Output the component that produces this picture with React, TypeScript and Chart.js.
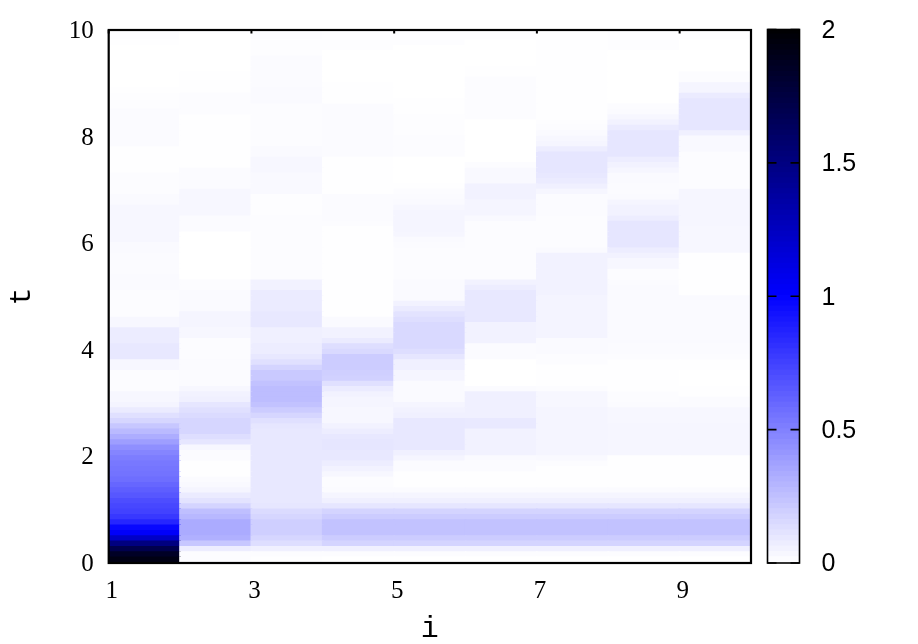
import { useEffect, useRef } from "react";
import { Chart, registerables } from "chart.js";

Chart.register(...registerables);

// value per 0.1-wide t row, from t=0 upward, one list per i column
const col1 = [
  1.92, 1.85, 1.7, 1.5, 1.22, 1.02, 0.97, 0.85, 0.78, 0.74,
  0.72, 0.7, 0.66, 0.63, 0.6, 0.57, 0.55, 0.54, 0.53, 0.51,
  0.48, 0.44, 0.38, 0.32, 0.27, 0.22, 0.16, 0.12, 0.08, 0.045,
  0.03, 0.03, 0.01, 0.01, 0.01, 0.01, 0.03, 0.03, 0.09, 0.09,
  0.09, 0.075, 0.075, 0.075, 0.03, 0.03, 0.01, 0.01, 0.01, 0.01,
  0.012, 0.02, 0.02, 0.02, 0.015, 0.015, 0.015, 0.015, 0.02, 0.02,
  0.03, 0.03, 0.03, 0.03, 0.03, 0.03, 0.03, 0.02, 0.02, 0.012,
  0.01, 0.01, 0.01, 0.002, 0.002, 0.002, 0.005, 0.005, 0.015, 0.015,
  0.015, 0.015, 0.015, 0.015, 0.015, 0.008, 0.008, 0.008, 0.002, 0,
  0, 0, 0, 0, 0, 0, 0, 0.003, 0.01, 0.01,
];
const col2 = [
  0.01, 0.01, 0.07, 0.22, 0.31, 0.33, 0.33, 0.33, 0.28, 0.25,
  0.17, 0.11, 0.08, 0.04, 0.025, 0.015, 0.005, 0.005, 0.005, 0.015,
  0.015, 0.03, 0.1, 0.13, 0.16, 0.16, 0.16, 0.14, 0.12, 0.1,
  0.06, 0.05, 0.03, 0.015, 0.015, 0.015, 0.015, 0.015, 0.012, 0.012,
  0.012, 0.012, 0.03, 0.03, 0.04, 0.04, 0.04, 0.02, 0.02, 0.02,
  0.02, 0.01, 0.01, 0, 0, 0, 0, 0, 0, 0,
  0, 0, 0.015, 0.015, 0.015, 0.03, 0.03, 0.03, 0.03, 0.03,
  0.015, 0.015, 0.015, 0.015, 0.005, 0.005, 0.005, 0.005, 0.005, 0.005,
  0.005, 0.005, 0.005, 0.005, 0.01, 0.01, 0.01, 0.01, 0.005, 0.005,
  0.005, 0.005, 0, 0, 0, 0, 0, 0, 0, 0.005,
];
const col3 = [
  0.005, 0.01, 0.06, 0.13, 0.16, 0.19, 0.19, 0.19, 0.16, 0.14,
  0.1, 0.09, 0.09, 0.09, 0.09, 0.09, 0.09, 0.09, 0.09, 0.09,
  0.09, 0.09, 0.09, 0.09, 0.09, 0.1, 0.12, 0.16, 0.2, 0.24,
  0.26, 0.26, 0.26, 0.24, 0.21, 0.21, 0.17, 0.12, 0.09, 0.07,
  0.07, 0.06, 0.06, 0.06, 0.09, 0.09, 0.09, 0.08, 0.08, 0.08,
  0.08, 0.05, 0.05, 0.012, 0.012, 0.012, 0.012, 0.012, 0.012, 0.012,
  0.012, 0.012, 0.012, 0.012, 0.012, 0.008, 0.008, 0.008, 0.008, 0.025,
  0.025, 0.025, 0.025, 0.03, 0.03, 0.03, 0.02, 0.02, 0.012, 0.012,
  0.012, 0.012, 0.012, 0.012, 0.012, 0.012, 0.02, 0.02, 0.02, 0.015,
  0.015, 0.015, 0.015, 0.015, 0.015, 0.008, 0.008, 0.008, 0.012, 0.012,
];
const col4 = [
  0, 0.01, 0.06, 0.17, 0.2, 0.24, 0.24, 0.24, 0.2, 0.17,
  0.1, 0.06, 0.04, 0.015, 0.01, 0.01, 0.03, 0.05, 0.07, 0.09,
  0.09, 0.1, 0.1, 0.09, 0.07, 0.05, 0.03, 0.03, 0.03, 0.04,
  0.04, 0.05, 0.08, 0.12, 0.18, 0.19, 0.2, 0.2, 0.2, 0.15,
  0.13, 0.08, 0.05, 0.05, 0.02, 0.02, 0.002, 0.002, 0.002, 0.002,
  0.002, 0.002, 0.002, 0.004, 0.004, 0.004, 0.004, 0.004, 0.004, 0.004,
  0.004, 0.004, 0.004, 0.012, 0.015, 0.015, 0.015, 0.015, 0.015, 0.003,
  0.003, 0.003, 0.003, 0.003, 0.005, 0.005, 0.015, 0.015, 0.015, 0.015,
  0.015, 0.015, 0.015, 0.015, 0.015, 0.015, 0.003, 0.003, 0.003, 0.003,
  0, 0, 0, 0, 0, 0, 0.006, 0.006, 0.006, 0.006,
];
const col5 = [
  0, 0.01, 0.06, 0.17, 0.2, 0.24, 0.24, 0.24, 0.2, 0.17,
  0.1, 0.06, 0.04, 0.015, 0.003, 0.003, 0.003, 0.015, 0.015, 0.04,
  0.06, 0.09, 0.09, 0.09, 0.09, 0.09, 0.09, 0.06, 0.05, 0.04,
  0.02, 0.02, 0.02, 0.02, 0.04, 0.04, 0.06, 0.06, 0.1, 0.13,
  0.15, 0.15, 0.15, 0.15, 0.15, 0.13, 0.11, 0.08, 0.05, 0.02,
  0.02, 0.02, 0.02, 0.01, 0.01, 0.01, 0.01, 0.01, 0.012, 0.015,
  0.02, 0.035, 0.04, 0.04, 0.04, 0.04, 0.03, 0.02, 0.015, 0.01,
  0.005, 0, 0, 0, 0, 0, 0.012, 0.012, 0.012, 0.012,
  0.008, 0.008, 0.008, 0.008, 0.005, 0.005, 0.005, 0, 0, 0,
  0, 0, 0, 0, 0, 0, 0, 0.006, 0.006, 0.006,
];
const col6 = [
  0, 0.01, 0.06, 0.17, 0.2, 0.24, 0.24, 0.24, 0.2, 0.17,
  0.1, 0.06, 0.04, 0.015, 0.003, 0.003, 0.003, 0.015, 0.015, 0.02,
  0.05, 0.05, 0.05, 0.05, 0.05, 0.085, 0.085, 0.06, 0.06, 0.06,
  0.06, 0.06, 0.015, 0, 0, 0, 0, 0, 0.015, 0.015,
  0.015, 0.05, 0.05, 0.05, 0.05, 0.09, 0.09, 0.09, 0.09, 0.09,
  0.09, 0.07, 0.05, 0.012, 0.012, 0.012, 0.012, 0.012, 0.012, 0.012,
  0.012, 0.012, 0.012, 0.012, 0.025, 0.04, 0.04, 0.04, 0.05, 0.05,
  0.05, 0.025, 0.025, 0.025, 0.01, 0, 0, 0, 0, 0,
  0, 0, 0, 0.012, 0.012, 0.012, 0.012, 0.012, 0.012, 0.012,
  0.012, 0.005, 0.005, 0, 0, 0, 0, 0, 0.006, 0.006,
];
const col7 = [
  0, 0.01, 0.06, 0.17, 0.2, 0.24, 0.24, 0.24, 0.2, 0.17,
  0.1, 0.06, 0.04, 0.015, 0.003, 0.003, 0.003, 0.005, 0.012, 0.025,
  0.04, 0.04, 0.04, 0.04, 0.04, 0.04, 0.04, 0.04, 0.04, 0.03,
  0.03, 0.03, 0.01, 0.002, 0.002, 0.002, 0.002, 0.01, 0.01, 0.02,
  0.02, 0.02, 0.045, 0.045, 0.045, 0.045, 0.045, 0.045, 0.045, 0.045,
  0.05, 0.05, 0.05, 0.05, 0.05, 0.05, 0.05, 0.05, 0.02, 0.012,
  0.012, 0.012, 0.012, 0.012, 0.012, 0.015, 0.015, 0.015, 0.015, 0.035,
  0.06, 0.08, 0.09, 0.1, 0.1, 0.1, 0.1, 0.07, 0.04, 0.03,
  0.02, 0.012, 0.008, 0.005, 0.005, 0.005, 0.005, 0.005, 0.005, 0.005,
  0.005, 0.005, 0.005, 0.005, 0.005, 0.005, 0.005, 0.005, 0.005, 0.005,
];
const col8 = [
  0, 0.01, 0.06, 0.17, 0.2, 0.24, 0.24, 0.24, 0.2, 0.17,
  0.1, 0.06, 0.04, 0.015, 0.003, 0.003, 0.003, 0.003, 0.003, 0.003,
  0.035, 0.035, 0.035, 0.035, 0.035, 0.035, 0.03, 0.03, 0.03, 0.015,
  0.01, 0.01, 0.002, 0.002, 0.002, 0.002, 0.002, 0.002, 0.01, 0.015,
  0.015, 0.02, 0.02, 0.02, 0.02, 0.02, 0.02, 0.02, 0.02, 0.02,
  0.02, 0.02, 0.015, 0.012, 0.012, 0.03, 0.03, 0.05, 0.07, 0.1,
  0.1, 0.1, 0.1, 0.1, 0.07, 0.05, 0.05, 0.04, 0.02, 0.015,
  0.015, 0.02, 0.02, 0.035, 0.05, 0.07, 0.1, 0.1, 0.1, 0.1,
  0.1, 0.08, 0.05, 0.03, 0.015, 0.01, 0, 0, 0, 0,
  0, 0, 0, 0, 0, 0, 0.006, 0.006, 0.006, 0.006,
];
const col9 = [
  0, 0.01, 0.06, 0.17, 0.2, 0.24, 0.24, 0.24, 0.2, 0.17,
  0.1, 0.06, 0.04, 0.015, 0.003, 0.003, 0.003, 0.002, 0.002, 0.002,
  0.035, 0.035, 0.035, 0.035, 0.035, 0.035, 0.03, 0.03, 0.03, 0.015,
  0.015, 0.005, 0.005, 0, 0, 0, 0.005, 0.005, 0.01, 0.015,
  0.015, 0.02, 0.02, 0.02, 0.02, 0.02, 0.02, 0.02, 0.02, 0.02,
  0.005, 0.005, 0.005, 0.005, 0.005, 0.005, 0.005, 0.005, 0.03, 0.03,
  0.03, 0.03, 0.03, 0.035, 0.035, 0.035, 0.035, 0.035, 0.035, 0.035,
  0.012, 0.012, 0.012, 0.012, 0.012, 0.012, 0.012, 0.025, 0.025, 0.025,
  0.06, 0.1, 0.1, 0.1, 0.1, 0.1, 0.1, 0.08, 0.04, 0.04,
  0.01, 0.01, 0, 0, 0, 0, 0, 0, 0.006, 0.006,
];
const columns = [col1, col2, col3, col4, col5, col6, col7, col8, col9];
const columnStarts = [1, 2, 3, 4, 5, 6, 7, 8, 9];
const xTickValues = [1, 3, 5, 7, 9];

// colour-bar steps, low edge of each band
const barLevels = [
  0, 0.02, 0.04, 0.06, 0.08, 0.1, 0.12, 0.14, 0.16, 0.18,
  0.2, 0.22, 0.24, 0.26, 0.28, 0.3, 0.32, 0.34, 0.36, 0.38,
  0.4, 0.42, 0.44, 0.46, 0.48, 0.5, 0.52, 0.54, 0.56, 0.58,
  0.6, 0.62, 0.64, 0.66, 0.68, 0.7, 0.72, 0.74, 0.76, 0.78,
  0.8, 0.82, 0.84, 0.86, 0.88, 0.9, 0.92, 0.94, 0.96, 0.98,
  1, 1.02, 1.04, 1.06, 1.08, 1.1, 1.12, 1.14, 1.16, 1.18,
  1.2, 1.22, 1.24, 1.26, 1.28, 1.3, 1.32, 1.34, 1.36, 1.38,
  1.4, 1.42, 1.44, 1.46, 1.48, 1.5, 1.52, 1.54, 1.56, 1.58,
  1.6, 1.62, 1.64, 1.66, 1.68, 1.7, 1.72, 1.74, 1.76, 1.78,
  1.8, 1.82, 1.84, 1.86, 1.88, 1.9, 1.92, 1.94, 1.96, 1.98,
];

const ROW = 0.1;
const colorOf = (v: number) => {
  if (v <= 1) {
    const c = Math.round(255 * (1 - Math.max(v, 0)));
    return `rgb(${c},${c},255)`;
  }
  return `rgb(0,0,${Math.round(255 * (2 - Math.min(v, 2)))})`;
};

const W = 918, H = 644;
const LEFT = 108.7, TOP = 29.5, RIGHT = 751, BOTTOM = 563;
const BAR_LEFT = 767.5, BAR_RIGHT = 799.5;

const framePlugin = {
  id: "frame",
  afterDatasetsDraw(chart: any) {
    const { ctx, chartArea: a, scales } = chart;
    ctx.save();
    ctx.strokeStyle = "#000";
    ctx.lineWidth = 2;
    ctx.beginPath();
    scales.x.ticks.forEach((t: any) => {
      const x = scales.x.getPixelForValue(t.value);
      ctx.moveTo(x, a.top);
      ctx.lineTo(x, a.top + 3.5);
    });
    ctx.stroke();
    ctx.lineWidth = 2.2;
    ctx.strokeRect(a.left, a.top, a.right - a.left, a.bottom - a.top);
    ctx.restore();
  },
};

const barFramePlugin = {
  id: "barFrame",
  afterDatasetsDraw(chart: any) {
    const { ctx, chartArea: a, scales } = chart;
    ctx.save();
    ctx.strokeStyle = "#000";
    ctx.lineWidth = 1.6;
    ctx.strokeRect(a.left, a.top, a.right - a.left, a.bottom - a.top);
    ctx.beginPath();
    scales.y.ticks.forEach((t: any) => {
      const y = scales.y.getPixelForValue(t.value);
      ctx.moveTo(a.left, y);
      ctx.lineTo(a.left + 9, y);
      ctx.moveTo(a.right - 9, y);
      ctx.lineTo(a.right, y);
    });
    ctx.stroke();
    ctx.restore();
  },
};

export default function App() {
  const mainRef = useRef<HTMLCanvasElement>(null);
  const barRef = useRef<HTMLCanvasElement>(null);

  useEffect(() => {
    const rowCount = col1.length;
    const datasets: any[] = [];
    for (let r = 0; r < rowCount; r++) {
      datasets.push({
        data: columns.map((c, k) => ({ x: columnStarts[k] + 0.5, y: [r * ROW, (r + 1) * ROW + 0.015] })),
        backgroundColor: columns.map((c) => colorOf(c[r])),
        barThickness: 72.5,
        grouped: false,
        borderWidth: 0,
      });
    }
    const main = new Chart(mainRef.current!, {
      type: "bar",
      data: { datasets },
      plugins: [framePlugin],
      options: {
        responsive: false,
        animation: false,
        events: [],
        layout: { padding: { left: 0, top: TOP, right: W - RIGHT, bottom: 0 } },
        plugins: { legend: { display: false }, tooltip: { enabled: false } },
        scales: {
          x: {
            type: "linear",
            min: 1,
            max: 10,
            offset: false,
            grid: { display: false, drawTicks: false },
            border: { display: false },
            afterBuildTicks: (s: any) => { s.ticks = xTickValues.map((value) => ({ value })); },
            afterFit: (s: any) => { s.height = H - BOTTOM; },
            title: {
              display: true,
              text: "i",
              color: "#000",
              font: { family: "'Liberation Mono'", size: 30 },
              padding: { top: 0, bottom: -3 },
            },
            ticks: {
              maxRotation: 0,
              labelOffset: 3,
              padding: 13,
              color: "#000",
              font: { family: "'Liberation Serif'", size: 25 },
            },
          },
          y: {
            type: "linear",
            min: 0,
            max: 10,
            grid: { display: false, drawTicks: false },
            border: { display: false },
            afterFit: (s: any) => { s.width = LEFT; },
            title: {
              display: true,
              text: "t",
              color: "#000",
              font: { family: "'Liberation Mono'", size: 30 },
              padding: { top: 4, bottom: 0 },
            },
            ticks: {
              stepSize: 2,
              padding: 15,
              labelOffset: 1.5,
              color: "#000",
              font: { family: "'Liberation Serif'", size: 25 },
            },
          },
        },
      },
    } as any);

    const barDatasets = barLevels.map((v) => ({
      data: [{ x: 0.5, y: [v, v + 0.024] }],
      backgroundColor: colorOf(v + 0.01),
      barThickness: 40,
      grouped: false,
      borderWidth: 0,
    }));
    const bar = new Chart(barRef.current!, {
      type: "bar",
      data: { datasets: barDatasets },
      plugins: [barFramePlugin],
      options: {
        responsive: false,
        animation: false,
        events: [],
        layout: { padding: { left: BAR_LEFT, top: TOP, right: 0, bottom: H - BOTTOM } },
        plugins: { legend: { display: false }, tooltip: { enabled: false } },
        scales: {
          x: { type: "linear", min: 0, max: 1, offset: false, display: false },
          y: {
            type: "linear",
            position: "right",
            min: 0,
            max: 2,
            grid: { display: false, drawTicks: false },
            border: { display: false },
            afterFit: (s: any) => {
              s.width = W - BAR_RIGHT;
              s.paddingTop = 0;
              s.paddingBottom = 0;
            },
            ticks: {
              stepSize: 0.5,
              padding: 22,
              labelOffset: 1.5,
              color: "#000",
              font: { family: "'Liberation Sans'", size: 25 },
              callback: (v: any) => String(v),
            },
          },
        },
      },
    } as any);

    return () => {
      main.destroy();
      bar.destroy();
    };
  }, []);

  const style: any = { position: "absolute", left: 0, top: 0 };
  return (
    <div>
      <canvas ref={mainRef} width={W} height={H} style={style} />
      <canvas ref={barRef} width={W} height={H} style={style} />
    </div>
  );
}
